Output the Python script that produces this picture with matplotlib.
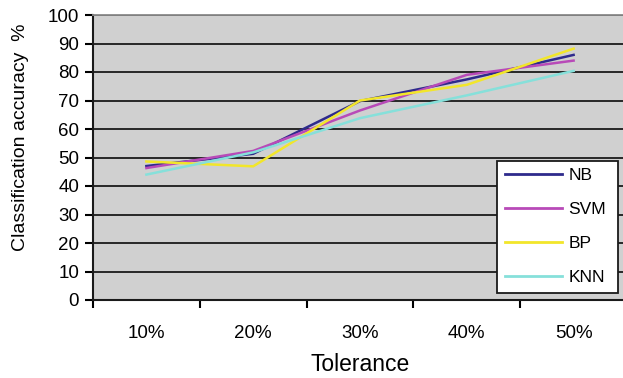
import numpy as np
from matplotlib import pyplot as plt

plt.rcParams['font.family'] = ['Liberation Sans', 'DejaVu Sans']

# data
tolerance = ['10%', '20%', '30%', '40%', '50%']
nb = [47, 51.3, 69.8, 77.4, 86]
svm = [46.3, 52.3, 66.5, 79, 84]
bp = [48.6, 46.9, 70, 75.5, 88.2]
knn = [44, 51.8, 63.8, 71.8, 80.4]

series = [('NB', nb, '#2e2a8c'),
          ('SVM', svm, '#b84ab8'),
          ('BP', bp, '#f2e62a'),
          ('KNN', knn, '#86e0da')]

fig = plt.figure(figsize=(6.23, 3.78), dpi=100)
# plot area runs past the right edge of the picture, as in the reference
ax = fig.add_axes([93 / 623, 78 / 378, 534 / 623, 285 / 378])
ax.set_facecolor('#d0d0d0')

x = np.arange(len(tolerance))
for name, vals, col in series:
    ax.plot(x, vals, color=col, lw=1.8, label=name, zorder=3)

ax.set_ylim(0, 100)
ax.set_xlim(-0.5, len(tolerance) - 0.5)
ax.set_yticks(np.arange(0, 101, 10))
ax.set_xticks(x)
ax.set_xticklabels(tolerance)
ax.set_xticks(np.arange(-0.5, len(tolerance)), minor=True)
ax.tick_params(axis='x', which='major', length=0, pad=18, labelsize=13.5)
ax.tick_params(axis='x', which='minor', length=6, width=1.5, direction='out')
ax.tick_params(axis='y', length=6, width=1.5, direction='out', pad=4, labelsize=13.5)

ax.yaxis.grid(True, color='#1a1a1a', lw=1.3)
ax.set_axisbelow(True)
for s in ['left', 'bottom']:
    ax.spines[s].set_linewidth(1.5)
    ax.spines[s].set_color('#1a1a1a')
ax.spines['top'].set_color('#8a8a8a')
ax.spines['top'].set_linewidth(1.3)
ax.spines['right'].set_visible(False)

ax.set_ylabel('Classification accuracy  %', fontsize=14)
ax.yaxis.set_label_coords(-0.12, 0.572)
ax.set_xlabel('Tolerance', fontsize=16.5)
ax.xaxis.set_label_coords(0.5, -0.185)

leg = ax.legend(loc='lower left', bbox_to_anchor=(404 / 534, 7 / 285, 121 / 534, 134 / 285),
                mode='expand', fontsize=12.5, frameon=True, fancybox=False,
                handlelength=3.3, handletextpad=0.35, labelspacing=1.08,
                borderaxespad=0, borderpad=0.45)
leg.get_frame().set_edgecolor('#1a1a1a')
leg.get_frame().set_linewidth(1.3)
leg.get_frame().set_facecolor('white')
leg.get_frame().set_alpha(1)
for line in leg.get_lines():
    line.set_linewidth(2)

fig.savefig('out.png', dpi=100)
